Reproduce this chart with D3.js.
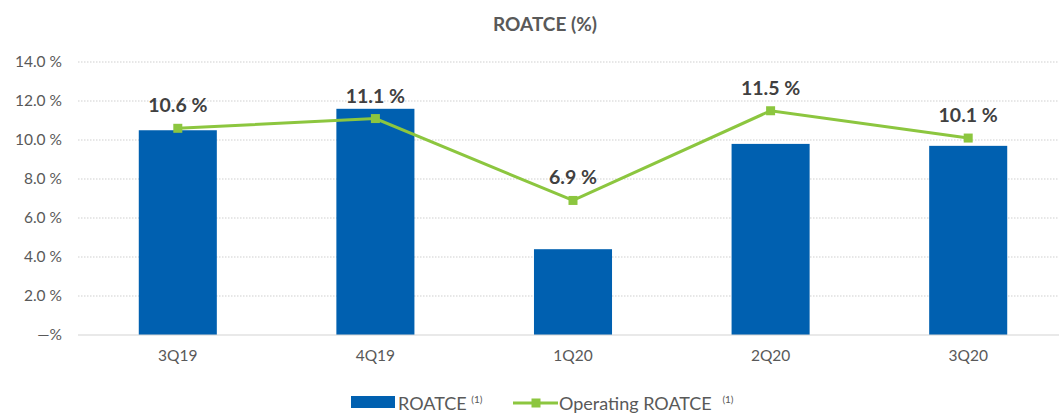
<!DOCTYPE html>
<html>
<head>
<meta charset="utf-8">
<script src="https://cdn.jsdelivr.net/npm/d3@7"></script>
<style>
  html, body { margin: 0; padding: 0; background: #fff; }
  svg { display: block; font-family: Lato, "Open Sans", sans-serif; }
</style>
</head>
<body>
<svg id="chart" width="1059" height="416"></svg>
<script>
// Quarterly return on average tangible common equity
const quarters = ["3Q19", "4Q19", "1Q20", "2Q20", "3Q20"];
const roatce = [10.5, 11.6, 4.4, 9.8, 9.7];
const operatingRoatce = [10.6, 11.1, 6.9, 11.5, 10.1];
const yTicks = [0, 2, 4, 6, 8, 10, 12, 14];

const svg = d3.select("#chart");
const barColor = "#0060B0";
const lineColor = "#8CC63F";
const textGrey = "#595959";

const x = d3.scaleBand().domain(quarters).range([79, 1067]).paddingInner(0.605).paddingOuter(0.3025);
const y = d3.scaleLinear().domain([0, 14]).range([335, 62]);

// Title
svg.append("text")
  .attr("x", 545).attr("y", 31)
  .attr("text-anchor", "middle")
  .attr("font-size", 19).attr("font-weight", 700)
  .attr("fill", textGrey)
  .text("ROATCE (%)");

// Gridlines
svg.append("g").selectAll("line")
  .data(yTicks.filter(d => d > 0))
  .join("line")
  .attr("x1", 78).attr("x2", 1059)
  .attr("y1", d => y(d)).attr("y2", d => y(d))
  .attr("stroke", "#cfcfcf").attr("stroke-width", 1)
  .attr("stroke-dasharray", "1.5,1.5");

// Y axis labels
const yAxis = d3.axisLeft(y).tickValues(yTicks).tickSize(0).tickPadding(0)
  .tickFormat(d => d === 0 ? "\u2014%" : d.toFixed(1) + " %");
svg.append("g")
  .attr("transform", "translate(62,0)")
  .call(yAxis)
  .call(g => g.select(".domain").remove())
  .call(g => g.selectAll("text").attr("font-size", 15.5).attr("fill", textGrey).attr("font-family", "Lato, sans-serif"));

// Bars
svg.append("g").selectAll("rect")
  .data(quarters.map((q, i) => ({ q, v: roatce[i] })))
  .join("rect")
  .attr("x", d => x(d.q))
  .attr("width", x.bandwidth())
  .attr("y", d => y(d.v))
  .attr("height", d => y(0) - y(d.v))
  .attr("fill", barColor);

// Baseline
svg.append("line")
  .attr("x1", 78).attr("x2", 1059)
  .attr("y1", y(0)).attr("y2", y(0))
  .attr("stroke", "#d4d4d4").attr("stroke-width", 1.2);

// X axis labels
const xAxis = d3.axisBottom(x).tickSize(0).tickPadding(0);
svg.append("g")
  .attr("transform", `translate(0,${y(0) + 15})`)
  .call(xAxis)
  .call(g => g.select(".domain").remove())
  .call(g => g.selectAll("text").attr("font-size", 15.5).attr("fill", textGrey).attr("font-family", "Lato, sans-serif"));

// Operating ROATCE line
const cx = q => x(q) + x.bandwidth() / 2;
const opData = quarters.map((q, i) => ({ q, v: operatingRoatce[i] }));
svg.append("path")
  .datum(opData)
  .attr("fill", "none")
  .attr("stroke", lineColor)
  .attr("stroke-width", 3)
  .attr("d", d3.line().x(d => cx(d.q)).y(d => y(d.v)));

svg.append("g").selectAll("rect")
  .data(opData)
  .join("rect")
  .attr("x", d => cx(d.q) - 4.5)
  .attr("y", d => y(d.v) - 4.5)
  .attr("width", 9).attr("height", 9)
  .attr("fill", lineColor);

// Value labels
svg.append("g").selectAll("text")
  .data(opData)
  .join("text")
  .attr("x", d => cx(d.q))
  .attr("y", d => y(d.v) - 16)
  .attr("text-anchor", "middle")
  .attr("font-size", 19.5).attr("font-weight", 700)
  .attr("fill", "#404040")
  .text(d => d.v.toFixed(1) + " %");

// Legend
const legend = svg.append("g");
legend.append("rect")
  .attr("x", 351).attr("y", 396).attr("width", 44).attr("height", 12)
  .attr("fill", barColor);
const t1 = legend.append("text")
  .attr("x", 398).attr("y", 410)
  .attr("font-size", 18).attr("fill", textGrey);
t1.append("tspan").text("ROATCE ");
t1.append("tspan").attr("dy", -7).attr("font-size", 10).text("(1)");

legend.append("line")
  .attr("x1", 513).attr("x2", 558).attr("y1", 403).attr("y2", 403)
  .attr("stroke", lineColor).attr("stroke-width", 3);
legend.append("rect")
  .attr("x", 531.5).attr("y", 398.5).attr("width", 9).attr("height", 9)
  .attr("fill", lineColor);
const t2 = legend.append("text")
  .attr("x", 559).attr("y", 410)
  .attr("font-size", 18).attr("fill", textGrey);
t2.append("tspan").text("Operating ROATCE ");
t2.append("tspan").attr("dx", 6).attr("dy", -7).attr("font-size", 10).text("(1)");
</script>
</body>
</html>
